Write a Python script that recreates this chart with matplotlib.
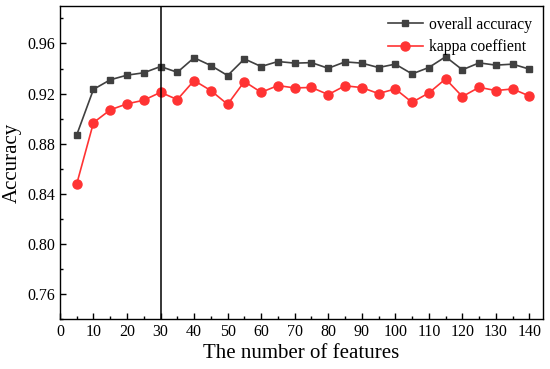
import numpy as np
import matplotlib.pyplot as plt
from matplotlib.ticker import MultipleLocator

features = np.arange(5, 145, 5)
overall_acc = [0.887, 0.9234, 0.931, 0.9347, 0.9366, 0.9416, 0.937, 0.9486,
               0.9424, 0.9344, 0.9477, 0.9416, 0.9456, 0.9443, 0.9447, 0.9402,
               0.9453, 0.9443, 0.9408, 0.9435, 0.9357, 0.9408, 0.9494, 0.939,
               0.9445, 0.9427, 0.9435, 0.9395]
kappa = [0.8478, 0.8968, 0.907, 0.9118, 0.9147, 0.921, 0.9152, 0.9304,
         0.9224, 0.9114, 0.9296, 0.921, 0.9264, 0.9245, 0.9249, 0.9192,
         0.9262, 0.9248, 0.92, 0.9237, 0.913, 0.9205, 0.9317, 0.9176,
         0.925, 0.9224, 0.9237, 0.918]

plt.rcParams["font.family"] = ["Liberation Serif", "DejaVu Serif"]

fig = plt.figure(figsize=(5.5, 3.69), dpi=100)
ax = fig.add_axes([0.109, 0.1355, 0.878, 0.8485])

ax.plot(features, overall_acc, "-s", color="#404040", markersize=5,
        linewidth=1.2, label="overall accuracy")
ax.plot(features, kappa, "-o", color="#ff3333", markersize=6.5,
        linewidth=1.2, label="kappa coeffient")
ax.axvline(30, color="black", linewidth=1.1)

ax.set_xlim(0, 144)
ax.set_ylim(0.74, 0.99)
ax.xaxis.set_major_locator(MultipleLocator(10))
ax.xaxis.set_minor_locator(MultipleLocator(5))
ax.yaxis.set_minor_locator(MultipleLocator(0.02))
ax.set_yticks([0.76, 0.80, 0.84, 0.88, 0.92, 0.96])
ax.set_yticklabels(["0.76", "0.80", "0.84", "0.88", "0.92", "0.96"])
ax.tick_params(which="both", direction="in", top=False, right=False,
               labelsize=11.5, width=1)
ax.tick_params(which="major", length=4)
ax.tick_params(which="minor", length=2.5)
for s in ax.spines.values():
    s.set_linewidth(1)

ax.set_xlabel("The number of features", fontsize=15, labelpad=3)
ax.set_ylabel("Accuracy", fontsize=15, labelpad=4)
ax.legend(loc="upper right", frameon=False, fontsize=11.3, handlelength=2.2,
          borderaxespad=0.3, handletextpad=0.4, labelspacing=0.4)

fig.savefig("out.png", dpi=100)
